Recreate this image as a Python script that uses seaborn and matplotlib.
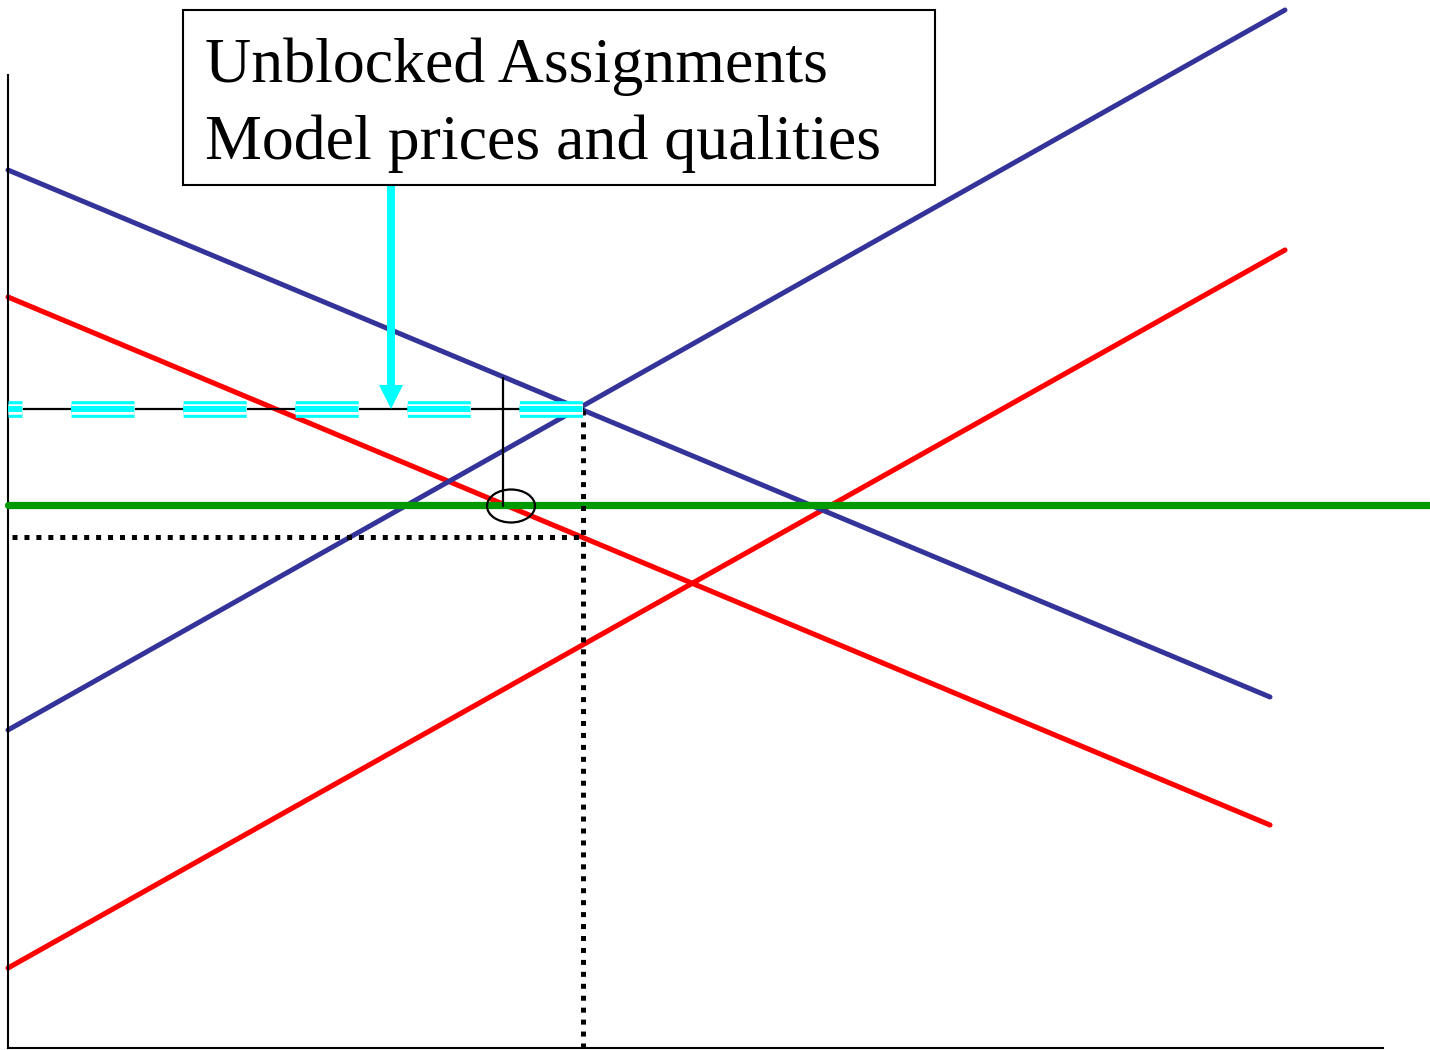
import matplotlib
matplotlib.use("Agg")
import matplotlib.pyplot as plt
from matplotlib.patches import Ellipse, Rectangle
import seaborn as sns

# --- chart values (axis units = pixels from the axes origin) ---
demand_hi_x = [0, 1262]
demand_hi_y = [878, 351]
supply_hi_x = [0, 1277]
supply_hi_y = [318, 1038]
demand_lo_x = [0, 1262]
demand_lo_y = [751, 223]
supply_lo_x = [0, 1277]
supply_lo_y = [80, 798]
quality_x = [0, 1422]
quality_y = [543, 543]
price_x = [0, 575]
price_y = [639, 639]
qty_x = [575, 575]
qty_y = [0, 639]
dotted_x = [4, 575]
dotted_y = [511, 511]
gap_x = [495, 495]
gap_y = [542, 670]
ellipse_xy = (503, 542)
arrow_x = 383
arrow_y = [863, 639]
box_x = [175, 927]
box_y = [863, 1038]
label_lines = ["Unblocked Assignments", "Model prices and qualities"]
label_baselines = [966, 889]

BLUE = "#333399"
RED = "#ff0000"
GREEN = "#009900"
CYAN = "#00ffff"

sns.set_style("white")
plt.rcParams["lines.scale_dashes"] = False
plt.rcParams["font.family"] = ["Liberation Serif", "DejaVu Serif"]

fig = plt.figure(figsize=(14.3, 10.5), dpi=100)
ax = fig.add_axes([8 / 1430, 2 / 1050, 1375 / 1430, 973 / 1050])
ax.set_xlim(0, 1375)
ax.set_ylim(0, 973)

sns.lineplot(x=supply_lo_x, y=supply_lo_y, ax=ax, color=RED, linewidth=3.7, zorder=1)
sns.lineplot(x=demand_lo_x, y=demand_lo_y, ax=ax, color=RED, linewidth=3.7, zorder=1)
sns.lineplot(x=demand_hi_x, y=demand_hi_y, ax=ax, color=BLUE, linewidth=3.6, zorder=2)
sns.lineplot(x=supply_hi_x, y=supply_hi_y, ax=ax, color=BLUE, linewidth=3.6, zorder=2)
sns.lineplot(x=quality_x, y=quality_y, ax=ax, color=GREEN, linewidth=5.2, zorder=3)

# price line: thin black under a striped cyan dash
ax.plot(price_x, price_y, color="black", linewidth=1.6, zorder=4)
dash = (35.3, (45.4, 35.3))
ax.plot(price_x, price_y, color=CYAN, linewidth=12.0, linestyle=dash,
        dash_capstyle="butt", zorder=5)
ax.plot(price_x, price_y, color="white", linewidth=7.6, linestyle=dash,
        dash_capstyle="butt", zorder=6)
ax.plot(price_x, price_y, color=CYAN, linewidth=4.3, linestyle=dash,
        dash_capstyle="butt", zorder=7)

# dotted guides
dots = (0, (3.6, 5.0))
ax.plot(qty_x, qty_y, color="black", linewidth=3.6, linestyle=dots,
        dash_capstyle="butt", zorder=4)
ax.plot(dotted_x, dotted_y, color="black", linewidth=3.6, linestyle=dots,
        dash_capstyle="butt", zorder=4)

# gap marker
ax.plot(gap_x, gap_y, color="black", linewidth=1.6, zorder=8)
ax.add_patch(Ellipse(ellipse_xy, 48, 33, fill=False, edgecolor="black",
                     linewidth=1.6, zorder=9))

# arrow from the label box
ax.arrow(arrow_x, arrow_y[0], 0, arrow_y[1] - arrow_y[0], width=8, head_width=24,
         head_length=24, length_includes_head=True, color=CYAN, linewidth=0,
         zorder=9, clip_on=False)

# label box
ax.add_patch(Rectangle((box_x[0], box_y[0]), box_x[1] - box_x[0], box_y[1] - box_y[0],
                       fill=True, facecolor="white", edgecolor="black", linewidth=1.5,
                       zorder=10, clip_on=False))
for txt, yb in zip(label_lines, label_baselines):
    ax.text(box_x[0] + 22, yb, txt, fontsize=46, va="baseline", ha="left",
            color="black", zorder=11, clip_on=False)

for ln in ax.lines:
    ln.set_clip_on(False)

sns.despine(ax=ax)
ax.spines["left"].set_linewidth(1.5)
ax.spines["bottom"].set_linewidth(1.5)
ax.spines["left"].set_color("black")
ax.spines["bottom"].set_color("black")
ax.set_xticks([])
ax.set_yticks([])
ax.set_xlabel("")
ax.set_ylabel("")

fig.savefig("out.png", dpi=100)
